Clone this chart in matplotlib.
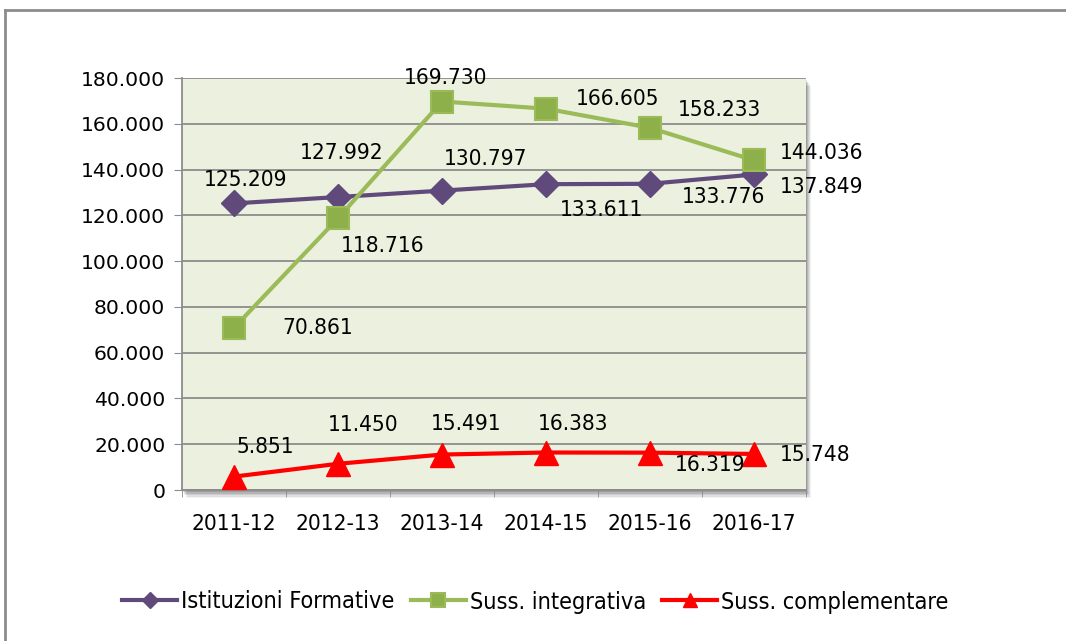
import matplotlib
matplotlib.use("Agg")
import matplotlib.pyplot as plt
from matplotlib.patches import Rectangle
from matplotlib.lines import Line2D
from matplotlib.ticker import FuncFormatter, FixedLocator

categories = ["2011-12", "2012-13", "2013-14", "2014-15", "2015-16", "2016-17"]
istituzioni = [125209, 127992, 130797, 133611, 133776, 137849]
integrativa = [70861, 118716, 169730, 166605, 158233, 144036]
complementare = [5851, 11450, 15491, 16383, 16319, 15748]
series_names = ["Istituzioni Formative", "Suss. integrativa", "Suss. complementare"]

# label offsets (pixels) of each data label relative to its point
off_ist = [(12, 23), (4, 44), (44, 32), (55, -26), (74, -13), (68, -13)]
off_int = [(84, 0), (45, -28), (4, 24), (72, 10), (69, 18), (68, 7)]
off_com = [(31, 30), (25, 39), (24, 31), (27, 29), (60, -12), (61, -1)]

def fmt(v):
    return f"{int(v):,}".replace(",", ".")

plt.rcParams['font.family'] = ['DejaVu Sans']
FS_Y = 14.6
FS = 16.2
COND = dict(family="DejaVu Sans", stretch="condensed")

fig = plt.figure(figsize=(10.66, 6.41), dpi=100)
W, H = 1066, 641
ax_l, ax_t, ax_r, ax_b = 182, 78, 806, 490
ax = fig.add_axes([ax_l / W, 1 - ax_b / H, (ax_r - ax_l) / W, (ax_b - ax_t) / H])

# outer border
fig.add_artist(Line2D([5 / W, 5 / W], [0, 1 - 10 / H], transform=fig.transFigure, color="#8c8c8c", lw=2))
fig.add_artist(Line2D([5 / W, 1], [1 - 10 / H, 1 - 10 / H], transform=fig.transFigure, color="#8c8c8c", lw=2))

# shadow of plot area
for i, a in enumerate([0.05, 0.07, 0.09, 0.11, 0.13]):
    d = 8 - i * 1.4
    fig.add_artist(Rectangle(((ax_l + d * 0.6) / W, 1 - (ax_b + d) / H), (ax_r - ax_l) / W, (ax_b - ax_t) / H,
                             transform=fig.transFigure, facecolor="#000000", alpha=a, edgecolor="none", zorder=0))

ax.set_facecolor("#EBF1DE")
x = list(range(len(categories)))
ax.set_xlim(-0.5, len(categories) - 0.5)
ax.set_ylim(0, 180000)
ax.yaxis.set_major_locator(FixedLocator(range(0, 180001, 20000)))
ax.yaxis.set_major_formatter(FuncFormatter(lambda v, p: fmt(v)))
ax.grid(axis="y", color="#8c8c8c", lw=1.3)
ax.set_axisbelow(True)
for s in ["top", "right"]:
    ax.spines[s].set_visible(False)
ax.spines["left"].set_color("#8c8c8c")
ax.spines["bottom"].set_color("#8c8c8c")
ax.spines["left"].set_linewidth(1.3)
ax.spines["bottom"].set_linewidth(1.3)
ax.set_xticks(x)
ax.set_xticklabels(categories, fontsize=FS, **COND)
ax.tick_params(axis="x", length=0, pad=17)
ax.set_xticks([i - 0.5 for i in range(len(categories) + 1)], minor=True)
ax.tick_params(axis="x", which="minor", length=5, color="#8c8c8c")
ax.tick_params(axis="y", length=6, color="#8c8c8c", labelsize=FS_Y, pad=6)

l1, = ax.plot(x, istituzioni, color="#604A7B", lw=3, marker="D", ms=13, mec="#604A7B", label=series_names[0], clip_on=False, zorder=3)
l2, = ax.plot(x, integrativa, color="#9BBB59", lw=3, marker="s", ms=16, mfc="#8DB04A", mec="#9BBB59", mew=1.5, label=series_names[1], clip_on=False, zorder=4)
l3, = ax.plot(x, complementare, color="#FF0000", lw=3, marker="^", ms=17, mec="#FF0000", label=series_names[2], clip_on=False, zorder=5)

for vals, offs in [(istituzioni, off_ist), (integrativa, off_int), (complementare, off_com)]:
    for xi, v, (dx, dy) in zip(x, vals, offs):
        ax.annotate(fmt(v), (xi, v), xytext=(dx, dy), textcoords="offset pixels",
                    ha="center", va="center", fontsize=FS, color="black", zorder=6,
                    annotation_clip=False, **COND)

fig.legend(handles=[l1, l2, l3], loc="center", bbox_to_anchor=(535.5 / W, 1 - 602 / H), ncol=3,
           frameon=False, prop=dict(size=16.8, family="DejaVu Sans", stretch="condensed"),
           handlelength=2.36, handletextpad=0.17, columnspacing=0.69, markerscale=0.6)

fig.savefig("out.png", dpi=100)
